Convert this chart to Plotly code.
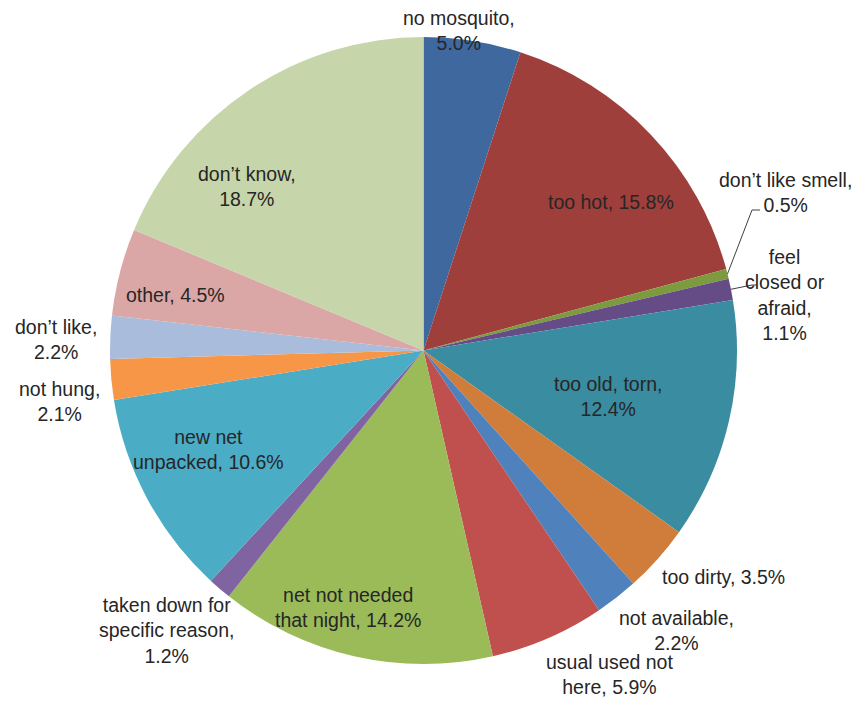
import math
import plotly.graph_objects as go

# ---- data ----
categories = ["no mosquito", "too hot", "don’t like smell", "feel closed or afraid",
              "too old, torn", "too dirty", "not available", "usual used not here",
              "net not needed that night", "taken down for specific reason",
              "new net unpacked", "not hung", "don’t like", "other", "don’t know"]
values = [5.0, 15.8, 0.5, 1.1, 12.4, 3.5, 2.2, 5.9, 14.2, 1.2, 10.6, 2.1, 2.2, 4.5, 18.7]
label_texts = ["no mosquito,<br>5.0%", "too hot, 15.8%", "don’t like smell,<br>0.5%",
               "feel<br>closed or<br>afraid,<br>1.1%", "too old, torn,<br>12.4%",
               "too dirty, 3.5%", "not available,<br>2.2%", "usual used not<br>here, 5.9%",
               "net not needed<br>that night, 14.2%", "taken down for<br>specific reason,<br>1.2%",
               "new net<br>unpacked, 10.6%", "not hung,<br>2.1%", "don’t like,<br>2.2%",
               "other, 4.5%", "don’t know,<br>18.7%"]

# ---- style ----
colors = ["#3F689F", "#9E3F3C", "#7C9A3E", "#654C87", "#3A8CA1", "#D07D3B", "#4F81BD",
          "#C0504D", "#9BBB59", "#8064A2", "#4BACC6", "#F79646", "#A9BCDB", "#DAA7A6", "#C6D5AA"]
W, H = 856, 702
CX, CY, R = 423.5, 350.5, 313.5
# label centers in pixels
label_pos = [(459, 31), (611, 202), (785, 192), (785, 295), (608, 396), (723, 577),
             (676, 630), (609, 674), (348, 607), (166, 630), (208, 449), (60, 401),
             (56, 339), (175, 295), (247, 187)]
FONT = "Liberation Sans"
FS = 19.5

fig = go.Figure(go.Pie(
    labels=categories, values=values, sort=False, direction="clockwise", rotation=0,
    marker=dict(colors=colors, line=dict(width=0)), textinfo="none", hoverinfo="label+percent",
    domain=dict(x=[(CX - R) / W, (CX + R) / W], y=[(H - CY - R) / H, (H - CY + R) / H]),
))

def px2paper(x, y):
    return x / W, 1 - y / H

annotations = []
for txt, (lx, ly) in zip(label_texts, label_pos):
    px, py = px2paper(lx, ly)
    annotations.append(dict(x=px, y=py, xref="paper", yref="paper", text=txt, showarrow=False,
                            xanchor="center", yanchor="middle", align="center",
                            font=dict(family=FONT, size=FS, color="#262626")))

# leader lines for the two tiny slices
total = sum(values)
cum = 0
mids = []
for v in values:
    mids.append((cum + v / 2) / total * 2 * math.pi)
    cum += v
shapes = []
leader_targets = {2: [(752, 210), (760, 210)], 3: [(752, 285), (757, 285)]}
for i, pts in leader_targets.items():
    a = mids[i]
    ex, ey = CX + R * math.sin(a), CY - R * math.cos(a)
    allp = [(ex, ey)] + pts
    path = "M " + " L ".join(f"{px2paper(x, y)[0]},{px2paper(x, y)[1]}" for x, y in allp)
    shapes.append(dict(type="path", path=path, xref="paper", yref="paper",
                       line=dict(color="#404040", width=1)))

fig.update_layout(width=W, height=H, margin=dict(l=0, r=0, t=0, b=0), showlegend=False,
                  paper_bgcolor="white", plot_bgcolor="white",
                  annotations=annotations, shapes=shapes)
fig.write_html("out.html")
